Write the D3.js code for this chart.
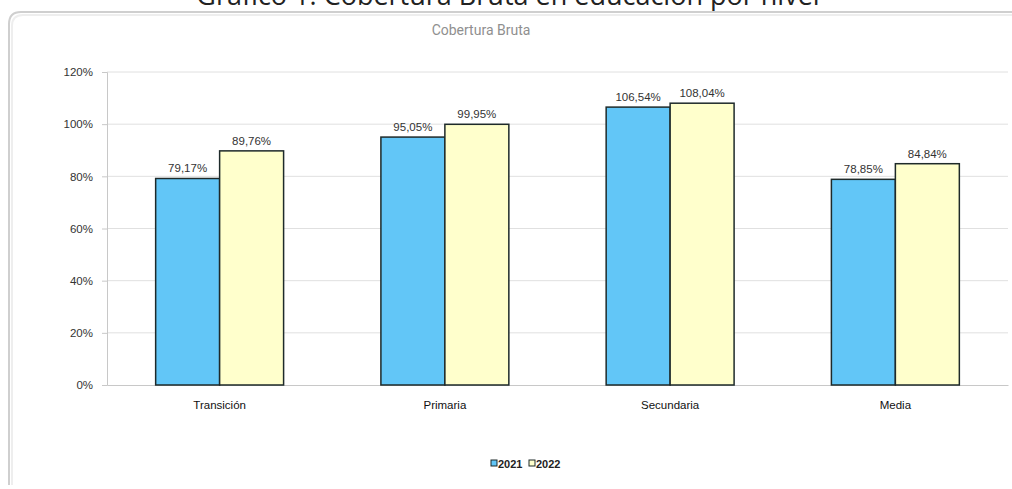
<!DOCTYPE html>
<html><head><meta charset="utf-8">
<script src="https://cdn.jsdelivr.net/npm/d3@7"></script>
<style>
html,body{margin:0;padding:0;background:#fff;}
svg{display:block;}
</style></head>
<body>
<svg id="chart" width="1012" height="489"></svg>
<script>
const categories = ["Transición", "Primaria", "Secundaria", "Media"];
const seriesNames = ["2021", "2022"];
const values2021 = [79.17, 95.05, 106.54, 78.85];
const values2022 = [89.76, 99.95, 108.04, 84.84];
const yTicks = [0, 20, 40, 60, 80, 100, 120];
const colors = ["#62C6F7", "#FFFFCC"];

const svg = d3.select("#chart");
const W = 1012, H = 489;
const margin = {left: 107, right: 4, top: 72, bottom: 104};

// page title (cut off at the top edge, as in the reference)
svg.append("text").attr("x", 508).attr("y", 5).attr("text-anchor", "middle")
  .attr("font-family", "Open Sans, sans-serif").attr("font-size", 27).attr("fill", "#222")
  .text("Gráfico 1. Cobertura Bruta en educación por nivel");

// chart frame
const frame = svg.append("g");
frame.append("path")
  .attr("d", "M 9 485 L 9 24 Q 9 12 21 12 L 1030 12")
  .attr("fill", "none").attr("stroke", "#cfcfcf").attr("stroke-width", 2);
frame.append("path")
  .attr("d", "M 12 485 L 12 26 Q 12 15 23 15 L 1030 15")
  .attr("fill", "none").attr("stroke", "#eeeeee").attr("stroke-width", 2);

svg.append("text").attr("x", 481).attr("y", 35).attr("text-anchor", "middle")
  .attr("font-family", "Liberation Sans Narrow, Roboto, sans-serif").attr("font-size", 14).attr("fill", "#8f8f8f")
  .text("Cobertura Bruta");

const x0 = d3.scaleBand().domain(categories).range([margin.left, W - margin.right]).paddingInner(0.432).paddingOuter(0.216);
const x1 = d3.scaleBand().domain(seriesNames).range([0, x0.bandwidth()]);
const y = d3.scaleLinear().domain([0, 120]).range([H - margin.bottom, margin.top]);

// gridlines
svg.append("g").selectAll("line").data(yTicks.filter(d => d > 0)).join("line")
  .attr("x1", margin.left).attr("x2", W - margin.right)
  .attr("y1", d => y(d)).attr("y2", d => y(d))
  .attr("stroke", "#e0e0e0").attr("stroke-width", 1);

// y axis
const yAxis = d3.axisLeft(y).tickValues(yTicks).tickFormat(d => d + "%").tickSize(5).tickPadding(9);
const gy = svg.append("g").attr("transform", `translate(${margin.left},0)`).call(yAxis);
gy.select(".domain").attr("stroke", "#c8c8c8");
gy.selectAll(".tick line").attr("stroke", "#c8c8c8");
gy.selectAll("text").attr("font-family", "Liberation Sans, Arial, sans-serif").attr("font-size", 11.5).attr("fill", "#333");

// x axis baseline
const xAxis = d3.axisBottom(x0).tickSize(0).tickPadding(16);
const gx = svg.append("g").attr("transform", `translate(0,${y(0)})`).call(xAxis);
gx.select(".domain").attr("stroke", "#c8c8c8");
gx.selectAll("text").attr("font-family", "Liberation Sans, Arial, sans-serif").attr("font-size", 11.5).attr("fill", "#111");

const data = categories.map((c, i) => ({cat: c, vals: [values2021[i], values2022[i]]}));
const fmt = v => v.toFixed(2).replace(".", ",") + "%";

const groups = svg.append("g").selectAll("g").data(data).join("g")
  .attr("transform", d => `translate(${x0(d.cat)},0)`);
groups.selectAll("rect").data(d => d.vals.map((v, j) => ({s: seriesNames[j], v, j}))).join("rect")
  .attr("x", d => x1(d.s)).attr("width", x1.bandwidth())
  .attr("y", d => y(d.v)).attr("height", d => y(0) - y(d.v))
  .attr("fill", d => colors[d.j]).attr("stroke", "#1e2a2a").attr("stroke-width", 1.5);
groups.selectAll("text.val").data(d => d.vals.map((v, j) => ({s: seriesNames[j], v, j}))).join("text")
  .attr("class", "val")
  .attr("x", d => x1(d.s) + x1.bandwidth() / 2).attr("y", d => y(d.v) - 6)
  .attr("text-anchor", "middle").attr("font-family", "Liberation Sans, Arial, sans-serif")
  .attr("font-size", 11.5).attr("fill", "#333").text(d => fmt(d.v));

// legend
const leg = svg.append("g").attr("transform", "translate(491,468)");
const items = [{n: "2021", c: colors[0], x: 0}, {n: "2022", c: colors[1], x: 38}];
items.forEach(it => {
  leg.append("rect").attr("x", it.x).attr("y", -8).attr("width", 6).attr("height", 6)
    .attr("fill", it.c).attr("stroke", "#1e2a2a").attr("stroke-width", 1);
  leg.append("text").attr("x", it.x + 7).attr("y", 0).attr("font-family", "Liberation Sans Narrow, Liberation Sans, Arial, sans-serif")
    .attr("font-size", 11).attr("font-weight", "bold").attr("fill", "#222").text(it.n);
});
</script>
</body></html>
